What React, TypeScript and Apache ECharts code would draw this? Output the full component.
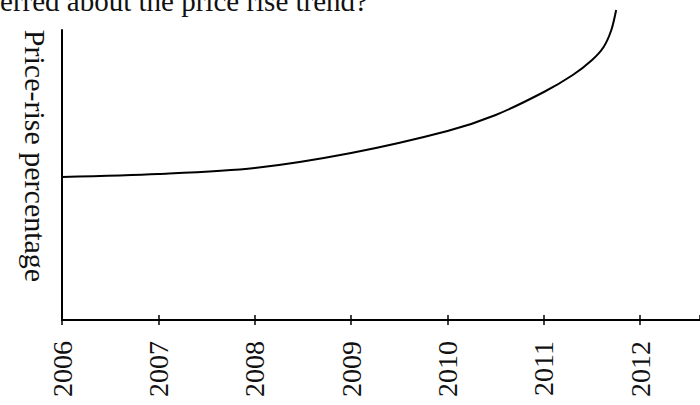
import React, { useEffect, useRef } from "react";
import * as echarts from "echarts";

const years = [2006, 2007, 2008, 2009, 2010, 2010.5, 2011, 2011.3, 2011.5, 2011.62, 2011.7, 2011.75];
const percentage = [143, 146, 152, 167, 189, 205, 228, 245, 260, 273, 290, 310];
const tickYears = [2006, 2007, 2008, 2009, 2010, 2011, 2012];
const yAxisTitle = "Price-rise percentage";
const questionText = "What can be inferred about the price rise trend?";

export default function App() {
  const ref = useRef<HTMLDivElement>(null);
  useEffect(() => {
    if (!ref.current) return;
    const chart = echarts.init(ref.current, null, { renderer: "svg" });
    const font = "'Liberation Serif', 'Times New Roman', serif";
    const baseX = {
      type: "value",
      min: tickYears[0],
      max: 2012.62,
      interval: 1,
      splitLine: { show: false },
      axisLine: { show: true, lineStyle: { color: "#000", width: 2 } },
    };
    chart.setOption({
      animation: false,
      backgroundColor: "#fff",
      grid: { left: 62, right: 0, top: 30, bottom: 85, containLabel: false },
      xAxis: [
        {
          ...baseX,
          position: "bottom",
          axisTick: { show: true, inside: false, length: 5, lineStyle: { color: "#000", width: 1.5 } },
          axisLabel: {
            rotate: 90,
            margin: 21,
            color: "#111",
            fontFamily: font,
            fontSize: 28,
            showMaxLabel: false,
            formatter: (v: number) => (tickYears.includes(v) ? String(v) : ""),
          },
        },
        {
          ...baseX,
          position: "bottom",
          offset: 0,
          axisTick: { show: true, inside: true, length: 5, lineStyle: { color: "#000", width: 1.5 } },
          axisLabel: { show: false },
        },
      ],
      yAxis: {
        type: "value",
        min: 0,
        max: 290,
        splitLine: { show: false },
        axisTick: { show: false },
        axisLabel: { show: false },
        axisLine: { show: true, lineStyle: { color: "#000", width: 2 } },
      },
      graphic: [
        {
          type: "text",
          x: 35,
          y: 156,
          rotation: -Math.PI / 2,
          style: {
            text: yAxisTitle,
            fontFamily: font,
            fontSize: 30,
            fill: "#111",
            align: "center",
            verticalAlign: "middle",
          },
        },
        {
          type: "text",
          x: 368,
          y: 1,
          style: {
            text: questionText,
            fontFamily: font,
            fontSize: 29,
            fill: "#111",
            align: "right",
            verticalAlign: "middle",
          },
        },
      ],
      series: [
        {
          type: "line",
          xAxisIndex: 0,
          data: years.map((y, i) => [y, percentage[i]]),
          smooth: 0.3,
          showSymbol: false,
          clip: false,
          lineStyle: { color: "#000", width: 2 },
        },
      ],
    });
    return () => chart.dispose();
  }, []);
  return <div ref={ref} style={{ position: "absolute", left: 0, top: 0, width: 700, height: 405 }} />;
}
